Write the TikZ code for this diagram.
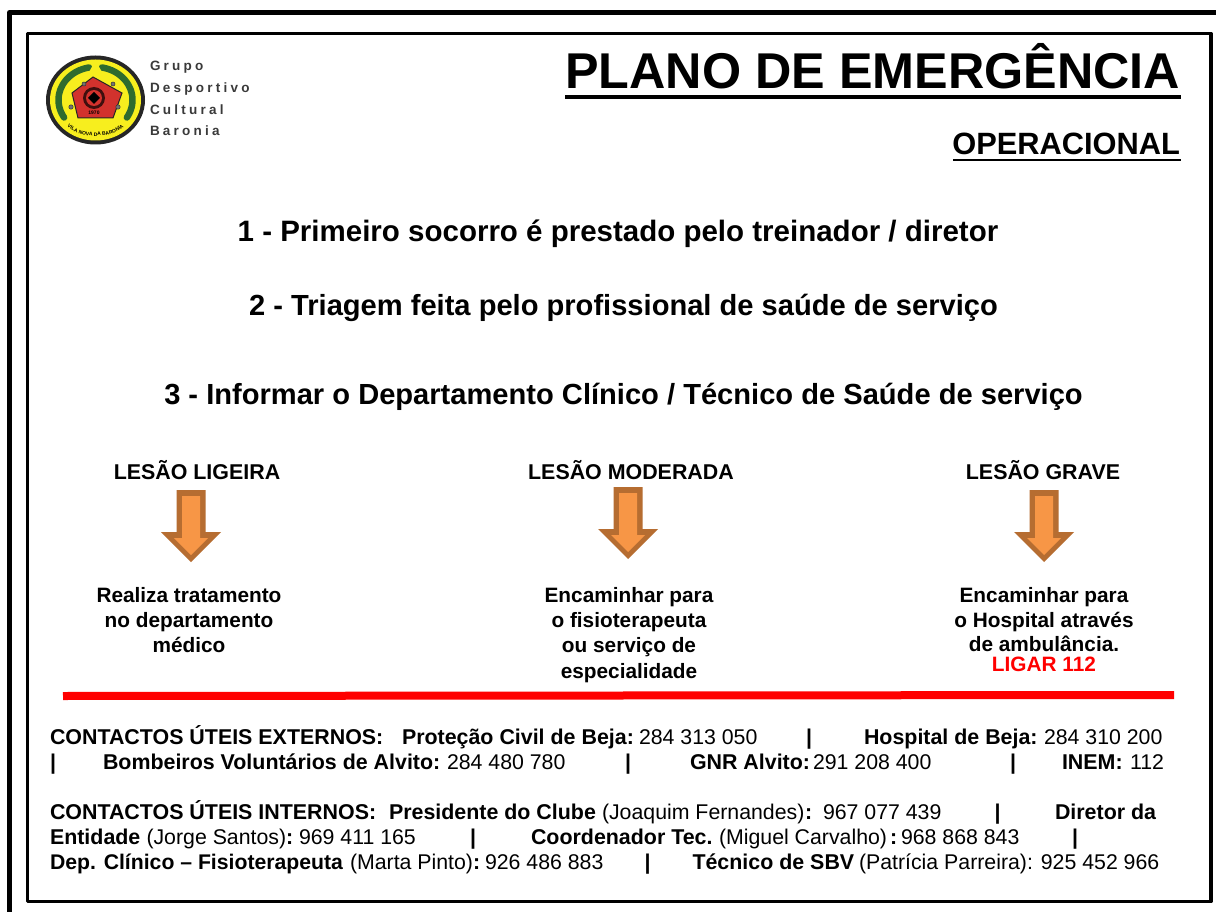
\documentclass[tikz,border=0pt]{standalone}
\usepackage{fontspec}
\usetikzlibrary{decorations.text}
\setmainfont{Liberation Sans}
\newfontfamily\spaced[LetterSpace=24]{Liberation Sans}
\definecolor{arrowfill}{HTML}{F79646}
\definecolor{arrowline}{HTML}{B66D31}
\definecolor{logogreen}{HTML}{2E6B2E}
\definecolor{logored}{HTML}{D2322D}
\definecolor{logoyellow}{HTML}{F7EE1E}
\definecolor{logotext}{HTML}{3A3A3A}
\newcommand{\fs}[1]{\fontsize{#1}{#1}\selectfont}
\tikzset{
 x=1pt,y=-1pt,
 frame/.style={draw=black,line join=round,fill=none},
 txt/.style={inner sep=0,outer sep=0,anchor=base west,font=\fs{21.3},text=black},
 txb/.style={txt,font=\fs{21.4}\bfseries},
 steptext/.style={inner sep=0,outer sep=0,anchor=base,font=\fs{29.1}\bfseries},
 headtext/.style={inner sep=0,outer sep=0,anchor=base,font=\fs{21.4}\bfseries},
 captext/.style={inner sep=0,outer sep=0,anchor=base,font=\fs{20.8}\bfseries},
 logoname/.style={inner sep=0,outer sep=0,anchor=base west,font=\fs{13.5}\spaced\bfseries,text=logotext},
 leafline/.style={draw=logogreen,line width=6.5pt,line cap=round},
 pentadot/.style={fill=black!55,draw=black!80,line width=.5pt},
}
\newcommand{\arrowat}[2]{%
 \fill[arrowline] (#1-14.5,#2) -- (#1+14.5,#2) -- (#1+14.5,#2+42) -- (#1+30,#2+42) -- (#1,#2+72) -- (#1-30,#2+42) -- (#1-14.5,#2+42) -- cycle;
 \fill[arrowfill] (#1-9,#2+6) -- (#1+9,#2+6) -- (#1+9,#2+48) -- (#1+17,#2+48) -- (#1,#2+65) -- (#1-17,#2+48) -- (#1-9,#2+48) -- cycle;}
\begin{document}
\begin{tikzpicture}
\useasboundingbox (0,0) rectangle (1216,912);
\fill[white] (0,0) rectangle (1216,912);
% frames
\draw[frame,line width=5pt] (9.5,930) -- (9.5,12.5) -- (1230,12.5);
\draw[frame,line width=3.5pt] (27.5,33.5) rectangle (1211,901.5);
% logo
\fill[black!85] (95.5,100) ellipse (49.5 and 44.5);
\fill[logoyellow] (95.5,100) ellipse (45.5 and 40.5);
\draw[leafline] plot[domain=100:212,samples=30,smooth] ({95.5+37*cos(\x)},{100-33*sin(\x)});
\draw[leafline] plot[domain=80:-32,samples=30,smooth] ({95.5+37*cos(\x)},{100-33*sin(\x)});
\fill[logoyellow] (95.5,60) -- (86,78) -- (105,78) -- cycle;
\draw[black!85,line width=1pt,fill=logored] (93,77) -- (122,93) -- (113,118) -- (78,118) -- (72,93) -- cycle;
\fill[black!70!logored] (94,98) circle (11);
\fill[logored] (94,98) circle (8);
\fill[black] (94,92) -- (100,98) -- (94,104) -- (88,98) -- cycle;
\fill[pentadot] (84,84) circle (2);
\fill[pentadot] (113,84) circle (2);
\fill[pentadot] (71,107) circle (2.2);
\fill[pentadot] (118,107) circle (2.2);
\node[inner sep=0,outer sep=0,font=\fs{5}\bfseries,text=black] (year) at (94,113) {1970};
\path[postaction={decorate},decoration={text along path,text align=center,text={|\fs{5}\bfseries|VILA NOVA DA BARONIA}}]
 (62,121) .. controls (75,141) and (116,141) .. (129,121);
% company name
\node[logoname] (g1) at (150,71) {Grupo};
\node[logoname] (g2) at (150,93) {Desportivo};
\node[logoname] (g3) at (150,115) {Cultural};
\node[logoname] (g4) at (150,136) {Baronia};
% title
\node[inner sep=0,outer sep=0,anchor=base east,font=\fs{50.3}\bfseries] (title) at (1180,89) {PLANO DE EMERGÊNCIA};
\draw[black,line width=4pt] (565,97) -- (1181,97);
\node[inner sep=0,outer sep=0,anchor=base east,font=\fs{30.8}\bfseries] (sub) at (1180,155) {OPERACIONAL};
\draw[black,line width=2.5pt] (953,160) -- (1181,160);
% steps
\node[steptext,font=\fs{29.5}\bfseries] (s1) at (618,242) {1 - Primeiro socorro é prestado pelo treinador / diretor};
\node[steptext] (s2) at (623.5,315) {2 - Triagem feita pelo profissional de saúde de serviço};
\node[steptext] (s3) at (623.5,404) {3 - Informar o Departamento Clínico / Técnico de Saúde de serviço};
% heads
\node[headtext] (h1) at (197,479) {LESÃO LIGEIRA};
\node[headtext] (h2) at (631,479) {LESÃO MODERADA};
\node[headtext] (h3) at (1043,479) {LESÃO GRAVE};
% arrows
\arrowat{191}{490}
\arrowat{628}{487}
\arrowat{1044}{490}
% captions
\node[captext] (c11) at (189,602) {Realiza tratamento};
\node[captext] (c12) at (189,627) {no departamento};
\node[captext] (c13) at (189,652) {médico};
\node[captext] (c21) at (629,602) {Encaminhar para};
\node[captext] (c22) at (629,627) {o fisioterapeuta};
\node[captext] (c23) at (629,652) {ou serviço de};
\node[captext] (c24) at (629,678) {especialidade};
\node[captext] (c31) at (1044,602) {Encaminhar para};
\node[captext] (c32) at (1044,627) {o Hospital através};
\node[captext] (c33) at (1044,651) {de ambulância.};
\node[captext,text=red] (c34) at (1044,671) {LIGAR 112};
% red rule
\draw[red,line width=8pt] (63,696) -- (1174,695);
% contacts
\node[txb] at (50,744) {CONTACTOS ÚTEIS EXTERNOS:};
\node[txb] at (402,744) {Proteção Civil de Beja:};
\node[txt] at (639,744) {284 313 050};
\node[txb] at (806,744) {|};
\node[txb] at (864,744) {Hospital de Beja:};
\node[txt] at (1044,744) {284 310 200};
\node[txb] at (50,769) {|};
\node[txb] at (103,769) {Bombeiros Voluntários de Alvito:};
\node[txt] at (447,769) {284 480 780};
\node[txb] at (625,769) {|};
\node[txb] at (690,769) {GNR Alvito:};
\node[txt] at (813,769) {291 208 400};
\node[txb] at (1010,769) {|};
\node[txb] at (1062,769) {INEM:};
\node[txt] at (1130,769) {112};
\node[txb] at (50,819) {CONTACTOS ÚTEIS INTERNOS:};
\node[txb] at (389,819) {Presidente do Clube};
\node[txt] at (602,819) {(Joaquim Fernandes)};
\node[txb] at (805,819) {:};
\node[txt] at (823,819) {967 077 439};
\node[txb] at (994.5,819) {|};
\node[txb] at (1055,819) {Diretor da};
\node[txb] at (50,844) {Entidade};
\node[txt] at (146.5,844) {(Jorge Santos)};
\node[txb] at (286,844) {:};
\node[txt] at (299,844) {969 411 165};
\node[txb] at (470,844) {|};
\node[txb] at (531,844) {Coordenador Tec.};
\node[txt] at (719,844) {(Miguel Carvalho)};
\node[txb] at (890,844) {:};
\node[txt] at (901,844) {968 868 843};
\node[txb] at (1072,844) {|};
\node[txb,font=\fs{21.2}\bfseries] at (50,869) {Dep. Clínico – Fisioterapeuta};
\node[txt] at (350,869) {(Marta Pinto)};
\node[txb] at (473,869) {:};
\node[txt] at (485,869) {926 486 883};
\node[txb] at (644.5,869) {|};
\node[txb] at (692.5,869) {Técnico de SBV};
\node[txt] at (859,869) {(Patrícia Parreira): 925 452 966};
\end{tikzpicture}
\end{document}
